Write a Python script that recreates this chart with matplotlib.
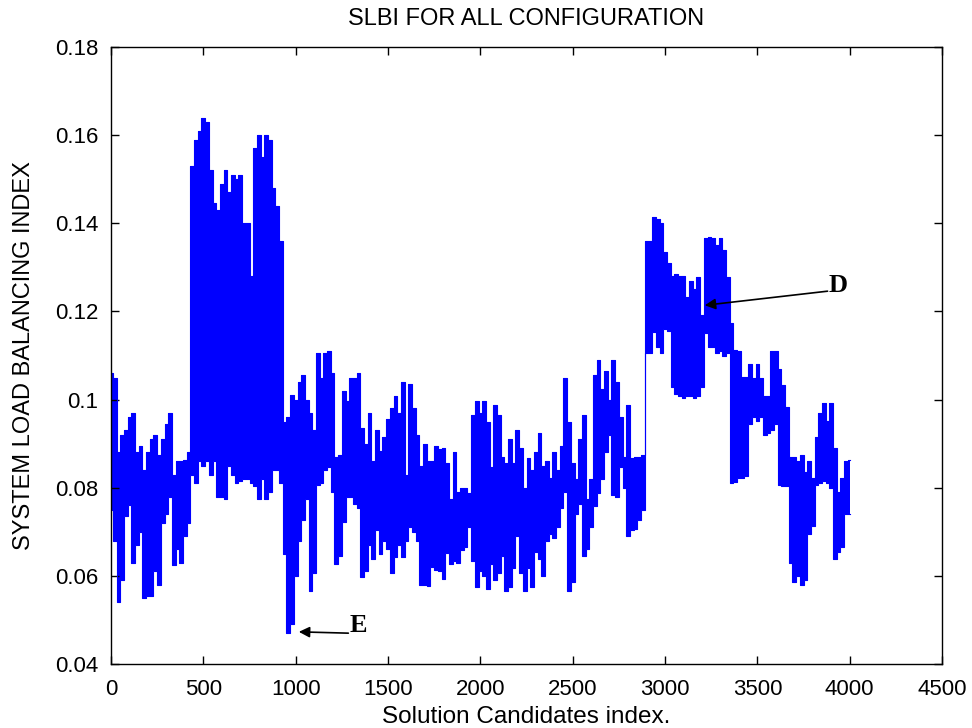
import numpy as np
import matplotlib
matplotlib.use("Agg")
import matplotlib.pyplot as plt

# sample index (every 20 candidates) and the lower / upper envelope of SLBI
idx = np.arange(0, 4001, 20)

slbi_upper = [
    0.106, 0.105, 0.088, 0.092, 0.093, 0.096, 0.097, 0.088, 0.0895, 0.084,
    0.088, 0.091, 0.092, 0.0875, 0.091, 0.0944, 0.097, 0.083, 0.086, 0.086,
    0.0863, 0.088, 0.153, 0.159, 0.161, 0.164, 0.163, 0.152, 0.1445, 0.143,
    0.149, 0.152, 0.147, 0.151, 0.150, 0.151, 0.140, 0.140, 0.128, 0.157,
    0.160, 0.155, 0.160, 0.159, 0.148, 0.144, 0.136, 0.095, 0.096, 0.101,
    0.100, 0.104, 0.1056, 0.100, 0.097, 0.093, 0.1105, 0.105, 0.1105, 0.111,
    0.106, 0.087, 0.0875, 0.102, 0.0996, 0.105, 0.105, 0.106, 0.0936, 0.090,
    0.097, 0.086, 0.093, 0.0883, 0.0915, 0.0956, 0.098, 0.1008, 0.097, 0.104,
    0.083, 0.1036, 0.098, 0.092, 0.085, 0.090, 0.086, 0.086, 0.0895, 0.0887,
    0.089, 0.0855, 0.0775, 0.088, 0.079, 0.080, 0.080, 0.0787, 0.0964, 0.0996,
    0.097, 0.0996, 0.095, 0.0847, 0.0988, 0.0964, 0.087, 0.0855, 0.091, 0.0855,
    0.093, 0.089, 0.080, 0.0867, 0.084, 0.088, 0.0924, 0.085, 0.086, 0.0823,
    0.088, 0.084, 0.0895, 0.105, 0.095, 0.0855, 0.082, 0.091, 0.0964, 0.0775,
    0.082, 0.1056, 0.109, 0.1024, 0.1064, 0.100, 0.109, 0.104, 0.096, 0.087,
    0.0988, 0.0867, 0.087, 0.087, 0.0875, 0.136, 0.136, 0.1414, 0.141, 0.140,
    0.1334, 0.131, 0.128, 0.1286, 0.128, 0.128, 0.1233, 0.127, 0.125, 0.1278,
    0.1193, 0.1366, 0.137, 0.1366, 0.135, 0.1366, 0.134, 0.1278, 0.1173, 0.1113,
    0.111, 0.1052, 0.1052, 0.108, 0.105, 0.108, 0.105, 0.1008, 0.1008, 0.111,
    0.111, 0.107, 0.1032, 0.0984, 0.087, 0.087, 0.086, 0.0875, 0.0835, 0.086,
    0.0823, 0.0916, 0.097, 0.0992, 0.0952, 0.0992, 0.089, 0.079, 0.0823, 0.086,
    0.0863,
]

slbi_lower = [
    0.075, 0.068, 0.054, 0.059, 0.0735, 0.076, 0.063, 0.067, 0.070, 0.055,
    0.0555, 0.0555, 0.061, 0.058, 0.072, 0.074, 0.078, 0.0625, 0.066, 0.063,
    0.069, 0.072, 0.083, 0.081, 0.086, 0.085, 0.086, 0.083, 0.086, 0.078,
    0.078, 0.0775, 0.085, 0.083, 0.081, 0.0815, 0.082, 0.082, 0.081, 0.0805,
    0.0775, 0.082, 0.0775, 0.079, 0.084, 0.084, 0.081, 0.065, 0.047, 0.049,
    0.060, 0.068, 0.0727, 0.0775, 0.0566, 0.0606, 0.0807, 0.081, 0.084, 0.0847,
    0.079, 0.0626, 0.0646, 0.0723, 0.078, 0.078, 0.0763, 0.0755, 0.0598, 0.061,
    0.067, 0.0638, 0.0703, 0.065, 0.068, 0.066, 0.0606, 0.0642, 0.067, 0.0642,
    0.068, 0.071, 0.070, 0.068, 0.058, 0.058, 0.0578, 0.062, 0.0614, 0.061,
    0.0594, 0.0653, 0.0626, 0.0634, 0.063, 0.0658, 0.0666, 0.071, 0.0634, 0.0574,
    0.061, 0.060, 0.057, 0.0626, 0.059, 0.0606, 0.0646, 0.0566, 0.0574, 0.0618,
    0.069, 0.0606, 0.0566, 0.0618, 0.0574, 0.0654, 0.0638, 0.060, 0.0678, 0.0694,
    0.0686, 0.071, 0.0755, 0.079, 0.0566, 0.0585, 0.074, 0.0763, 0.0646, 0.0662,
    0.071, 0.0759, 0.0787, 0.082, 0.088, 0.092, 0.0783, 0.078, 0.0847, 0.080,
    0.069, 0.0703, 0.0707, 0.0727, 0.075, 0.1105, 0.1105, 0.1153, 0.112, 0.1105,
    0.116, 0.1155, 0.1028, 0.1012, 0.1008, 0.1004, 0.1008, 0.1008, 0.1004, 0.1008,
    0.1028, 0.115, 0.112, 0.112, 0.1105, 0.111, 0.110, 0.1105, 0.081, 0.0813,
    0.0823, 0.0823, 0.0827, 0.0944, 0.096, 0.0952, 0.096, 0.092, 0.0924, 0.0932,
    0.0944, 0.0807, 0.0803, 0.0803, 0.063, 0.0585, 0.060, 0.058, 0.059, 0.0694,
    0.0714, 0.0807, 0.081, 0.0815, 0.081, 0.080, 0.0638, 0.0654, 0.0666, 0.074,
    0.074,
]

x_ticks = [0, 500, 1000, 1500, 2000, 2500, 3000, 3500, 4000, 4500]
y_ticks = [0.04, 0.06, 0.08, 0.10, 0.12, 0.14, 0.16, 0.18]
y_tick_labels = ["0.04", "0.06", "0.08", "0.1", "0.12", "0.14", "0.16", "0.18"]

# annotations: (label, text position, arrow tip, arrow tail)
ann_D = ("D", (3935, 0.1258), (3215, 0.1214), (3880, 0.1246))
ann_E = ("E", (1340, 0.0488), (1017, 0.0473), (1285, 0.0470))

plt.rcParams['font.family'] = ['Liberation Sans', 'DejaVu Sans']

fig = plt.figure(figsize=(9.72, 7.28), dpi=100)
ax = fig.add_axes([0.1142, 0.0879, 0.855, 0.8475])

ax.fill_between(idx, slbi_lower, slbi_upper, step='mid', color='#0000ff', lw=0)
ax.step(idx, slbi_upper, where='mid', color='#0000ff', lw=0.8)
ax.step(idx, slbi_lower, where='mid', color='#0000ff', lw=0.8)

ax.set_xlim(0, 4500)
ax.set_ylim(0.04, 0.18)
ax.set_xticks(x_ticks)
ax.set_xticklabels([str(v) for v in x_ticks])
ax.set_yticks(y_ticks)
ax.set_yticklabels(y_tick_labels)
ax.tick_params(direction='in', length=6, width=1, top=True, right=True,
               labelsize=16, colors='black')
ax.tick_params(axis='y', pad=9)
ax.tick_params(axis='x', pad=11)
for s in ax.spines.values():
    s.set_linewidth(1.0)
    s.set_color('black')

ax.text(0.5, 1.045, "SLBI FOR ALL CONFIGURATION", transform=ax.transAxes,
        fontsize=17, ha='center', va='center')
ax.set_xlabel("Solution Candidates index.", fontsize=17.5)
ax.xaxis.label.set_va('center')
ax.xaxis.set_label_coords(0.5, -0.086)
ax.set_ylabel("SYSTEM LOAD BALANCING INDEX", fontsize=17)
ax.yaxis.label.set_va('center')
ax.yaxis.set_label_coords(-0.105, 0.5)

for lab, tpos, tip, tail in (ann_D, ann_E):
    ax.annotate("", xy=tip, xytext=tail,
                arrowprops=dict(arrowstyle='-|>', color='black', lw=1.2,
                                mutation_scale=16, shrinkA=0, shrinkB=0))
    ax.text(tpos[0], tpos[1], lab, fontsize=19, fontweight='bold',
            family=['Liberation Serif', 'DejaVu Serif'], ha='center', va='center')

fig.savefig("out.png", dpi=100)
